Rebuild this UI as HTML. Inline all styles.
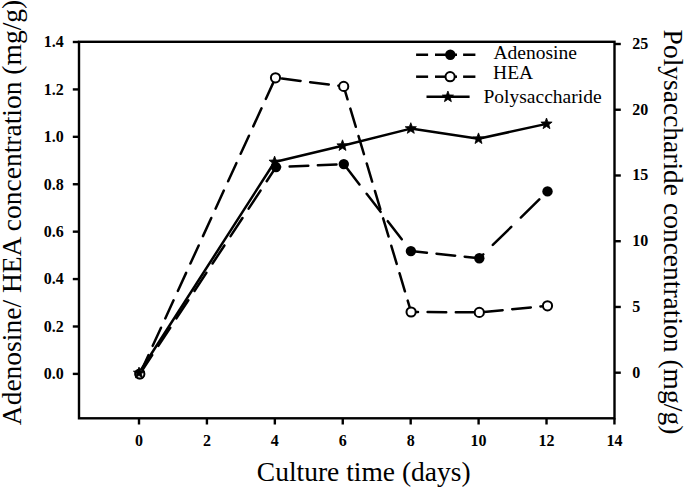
<!DOCTYPE html>
<html><head><meta charset="utf-8"><style>
html,body{margin:0;padding:0;background:#fff;width:685px;height:491px;overflow:hidden;}
svg{display:block;font-family:"Liberation Serif",serif;}
</style></head><body>
<svg width="685" height="491" viewBox="0 0 685 491">
<rect width="685" height="491" fill="#fff"/>
<rect x="79.0" y="41.8" width="535.5" height="376.5" fill="none" stroke="#000" stroke-width="2.4"/>
<g stroke="#000" stroke-width="2.4"><line x1="72.8" y1="373.90" x2="79.0" y2="373.90"/><line x1="72.8" y1="326.49" x2="79.0" y2="326.49"/><line x1="72.8" y1="279.07" x2="79.0" y2="279.07"/><line x1="72.8" y1="231.66" x2="79.0" y2="231.66"/><line x1="72.8" y1="184.24" x2="79.0" y2="184.24"/><line x1="72.8" y1="136.83" x2="79.0" y2="136.83"/><line x1="72.8" y1="89.42" x2="79.0" y2="89.42"/><line x1="72.8" y1="42.00" x2="79.0" y2="42.00"/><line x1="139.00" y1="418.3" x2="139.00" y2="424.5"/><line x1="206.92" y1="418.3" x2="206.92" y2="424.5"/><line x1="274.84" y1="418.3" x2="274.84" y2="424.5"/><line x1="342.76" y1="418.3" x2="342.76" y2="424.5"/><line x1="410.68" y1="418.3" x2="410.68" y2="424.5"/><line x1="478.60" y1="418.3" x2="478.60" y2="424.5"/><line x1="546.52" y1="418.3" x2="546.52" y2="424.5"/><line x1="614.44" y1="418.3" x2="614.44" y2="424.5"/><line x1="614.5" y1="372.70" x2="620.8" y2="372.70"/><line x1="614.5" y1="306.96" x2="620.8" y2="306.96"/><line x1="614.5" y1="241.22" x2="620.8" y2="241.22"/><line x1="614.5" y1="175.48" x2="620.8" y2="175.48"/><line x1="614.5" y1="109.74" x2="620.8" y2="109.74"/><line x1="614.5" y1="44.00" x2="620.8" y2="44.00"/></g>
<g font-family="Liberation Serif" font-weight="bold" font-size="16" fill="#000"><text x="63.8" y="379.20" text-anchor="end">0.0</text><text x="63.8" y="331.79" text-anchor="end">0.2</text><text x="63.8" y="284.37" text-anchor="end">0.4</text><text x="63.8" y="236.96" text-anchor="end">0.6</text><text x="63.8" y="189.54" text-anchor="end">0.8</text><text x="63.8" y="142.13" text-anchor="end">1.0</text><text x="63.8" y="94.72" text-anchor="end">1.2</text><text x="63.8" y="47.30" text-anchor="end">1.4</text><text x="139.00" y="446.2" text-anchor="middle">0</text><text x="206.92" y="446.2" text-anchor="middle">2</text><text x="274.84" y="446.2" text-anchor="middle">4</text><text x="342.76" y="446.2" text-anchor="middle">6</text><text x="410.68" y="446.2" text-anchor="middle">8</text><text x="478.60" y="446.2" text-anchor="middle">10</text><text x="546.52" y="446.2" text-anchor="middle">12</text><text x="614.44" y="446.2" text-anchor="middle">14</text><text x="632.2" y="377.60">0</text><text x="632.2" y="311.86">5</text><text x="632.2" y="246.12">10</text><text x="632.2" y="180.38">15</text><text x="632.2" y="114.64">20</text><text x="632.2" y="48.90">25</text></g>
<g font-family="Liberation Serif" font-size="27.5" fill="#000">
<text transform="translate(21,425.2) rotate(-90)">Adenosine/ HEA concentration (mg/g)</text>
<text transform="translate(663.6,29.6) rotate(90)">Polysaccharide concentration (mg/g)</text>
<text x="256.8" y="480.5">Culture time (days)</text>
</g>
<path d="M140.29,373.26 L152.21,355.16 M158.34,345.83 L170.26,327.73 M176.40,318.40 L188.32,300.30 M194.46,290.97 L206.38,272.87 M212.52,263.54 L224.43,245.44 M230.57,236.11 L242.49,218.01 M248.63,208.68 L260.55,190.58 M266.69,181.25 L276.00,167.10 L280.07,166.92 M289.65,166.50 L308.27,165.67 M317.85,165.25 L336.47,164.42 M345.49,166.29 L359.45,184.40 M366.65,193.72 L380.61,211.83 M387.80,221.15 L401.76,239.26 M408.96,248.58 L410.90,251.10 L426.92,252.76 M436.51,253.76 L455.12,255.69 M464.71,256.69 L479.30,258.20 L483.30,254.29 M492.82,244.96 L511.30,226.86 M520.82,217.53 L539.31,199.43" fill="none" stroke="#000" stroke-width="2.5" stroke-linecap="round" stroke-linejoin="round"/>
<path d="M140.14,373.26 L148.43,355.16 M152.71,345.83 L161.00,327.73 M165.27,318.40 L173.57,300.30 M177.84,290.97 L186.13,272.87 M190.41,263.54 L198.70,245.44 M202.97,236.11 L211.27,218.01 M215.54,208.68 L223.83,190.58 M228.11,181.25 L236.40,163.15 M240.67,153.82 L248.97,135.72 M253.24,126.39 L261.53,108.29 M265.81,98.96 L274.10,80.86 M281.95,78.61 L300.56,80.96 M310.15,82.17 L328.76,84.52 M338.35,85.72 L343.70,86.40 L347.55,99.30 M350.34,108.62 L355.75,126.73 M358.53,136.05 L363.94,154.16 M366.73,163.48 L372.14,181.59 M374.92,190.91 L380.33,209.02 M383.12,218.34 L388.53,236.45 M391.31,245.77 L396.72,263.88 M399.51,273.20 L404.92,291.31 M407.70,300.63 L411.10,312.00 L418.03,312.04 M427.61,312.10 L446.23,312.21 M455.81,312.26 L474.43,312.37 M484.01,311.94 L502.63,310.14 M512.21,309.21 L530.83,307.41 M540.41,306.49 L547.50,305.80" fill="none" stroke="#000" stroke-width="2.5" stroke-linecap="round" stroke-linejoin="round"/>
<path d="M139.00,373.00 L274.60,162.00 L342.50,145.70 L410.80,128.60 L478.50,138.80 L546.50,123.90" fill="none" stroke="#000" stroke-width="2.5" stroke-linejoin="round"/>
<circle cx="139.8" cy="374.0" r="5.2" fill="#000"/>
<circle cx="276.0" cy="167.1" r="5.2" fill="#000"/>
<circle cx="343.8" cy="164.1" r="5.2" fill="#000"/>
<circle cx="410.9" cy="251.1" r="5.2" fill="#000"/>
<circle cx="479.3" cy="258.2" r="5.2" fill="#000"/>
<circle cx="547.5" cy="191.4" r="5.2" fill="#000"/>
<circle cx="139.8" cy="374.0" r="4.6" fill="#fff" stroke="#000" stroke-width="2.0"/>
<circle cx="275.5" cy="77.8" r="4.6" fill="#fff" stroke="#000" stroke-width="2.0"/>
<circle cx="343.7" cy="86.4" r="4.6" fill="#fff" stroke="#000" stroke-width="2.0"/>
<circle cx="411.1" cy="312.0" r="4.6" fill="#fff" stroke="#000" stroke-width="2.0"/>
<circle cx="479.3" cy="312.4" r="4.6" fill="#fff" stroke="#000" stroke-width="2.0"/>
<circle cx="547.5" cy="305.8" r="4.6" fill="#fff" stroke="#000" stroke-width="2.0"/>
<polygon points="139.00,367.10 140.46,371.00 144.61,371.18 141.36,373.77 142.47,377.77 139.00,375.48 135.53,377.77 136.64,373.77 133.39,371.18 137.54,371.00" fill="#000" stroke="#000" stroke-width="0.8" stroke-linejoin="miter"/>
<polygon points="274.60,156.10 276.06,160.00 280.21,160.18 276.96,162.77 278.07,166.77 274.60,164.48 271.13,166.77 272.24,162.77 268.99,160.18 273.14,160.00" fill="#000" stroke="#000" stroke-width="0.8" stroke-linejoin="miter"/>
<polygon points="342.50,139.80 343.96,143.70 348.11,143.88 344.86,146.47 345.97,150.47 342.50,148.18 339.03,150.47 340.14,146.47 336.89,143.88 341.04,143.70" fill="#000" stroke="#000" stroke-width="0.8" stroke-linejoin="miter"/>
<polygon points="410.80,122.70 412.26,126.60 416.41,126.78 413.16,129.37 414.27,133.37 410.80,131.08 407.33,133.37 408.44,129.37 405.19,126.78 409.34,126.60" fill="#000" stroke="#000" stroke-width="0.8" stroke-linejoin="miter"/>
<polygon points="478.50,132.90 479.96,136.80 484.11,136.98 480.86,139.57 481.97,143.57 478.50,141.28 475.03,143.57 476.14,139.57 472.89,136.98 477.04,136.80" fill="#000" stroke="#000" stroke-width="0.8" stroke-linejoin="miter"/>
<polygon points="546.50,118.00 547.96,121.90 552.11,122.08 548.86,124.67 549.97,128.67 546.50,126.38 543.03,128.67 544.14,124.67 540.89,122.08 545.04,121.90" fill="#000" stroke="#000" stroke-width="0.8" stroke-linejoin="miter"/>
<g stroke="#000" stroke-width="2.5"><line x1="416.1" y1="54.75" x2="428.1" y2="54.75"/><line x1="435" y1="54.75" x2="457" y2="54.75"/><line x1="463.1" y1="54.75" x2="475.4" y2="54.75"/><line x1="416.1" y1="76.7" x2="428.1" y2="76.7"/><line x1="435" y1="76.7" x2="457" y2="76.7"/><line x1="463.1" y1="76.7" x2="475.4" y2="76.7"/><line x1="426.5" y1="96.8" x2="469.6" y2="96.8"/></g>
<circle cx="450.3" cy="54.75" r="5.2" fill="#000"/>
<circle cx="450.1" cy="76.7" r="4.6" fill="#fff" stroke="#000" stroke-width="2.0"/>
<polygon points="447.90,91.00 449.36,94.90 453.51,95.08 450.26,97.67 451.37,101.67 447.90,99.38 444.43,101.67 445.54,97.67 442.29,95.08 446.44,94.90" fill="#000" stroke="#000" stroke-width="0.8" stroke-linejoin="miter"/>
<g font-family="Liberation Serif" font-size="19.5" fill="#000">
<text x="493.5" y="58.9">Adenosine</text>
<text x="493.1" y="78.9">HEA</text>
<text x="483.5" y="102.7">Polysaccharide</text>
</g>
</svg>
</body></html>
